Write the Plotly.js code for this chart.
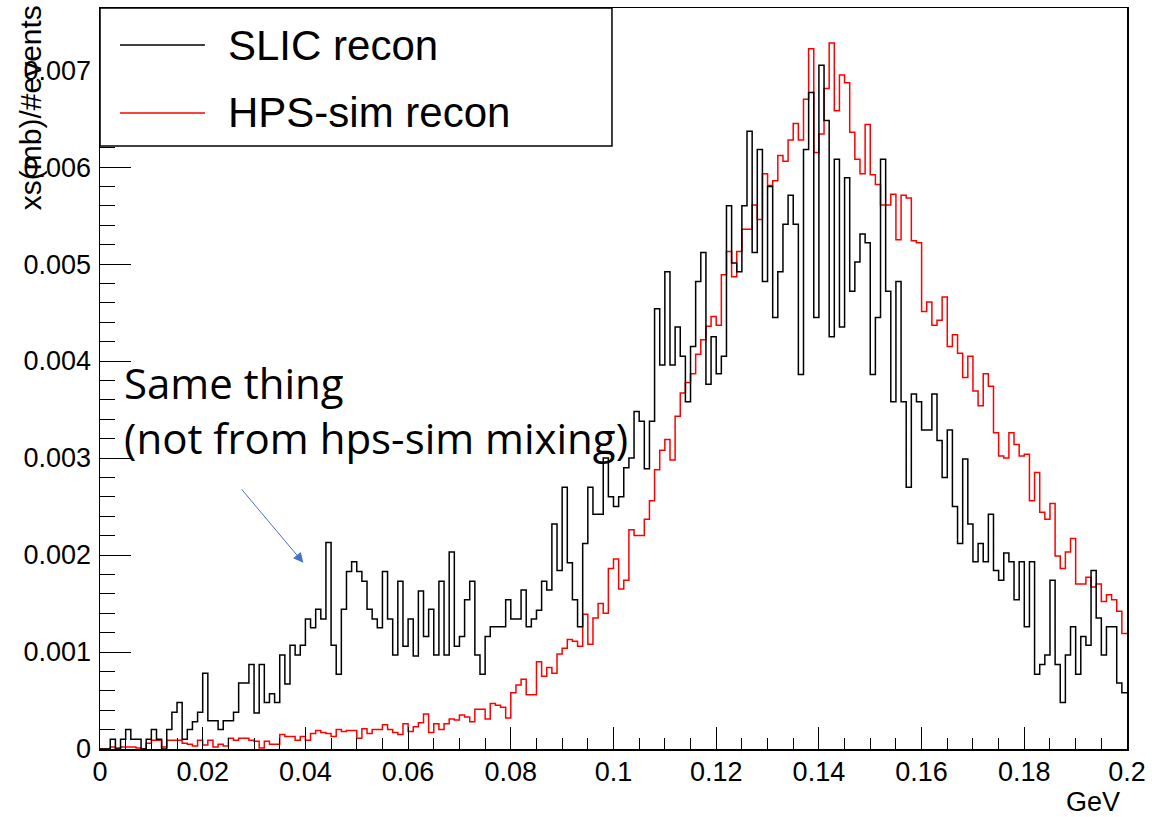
<!DOCTYPE html>
<html>
<head>
<meta charset="utf-8">
<script src="https://cdn.plot.ly/plotly-3.0.1.min.js"></script>
<style>html,body{margin:0;padding:0;background:#fff;}#chart{width:1152px;height:817px;}</style>
</head>
<body>
<div id="chart"></div>
<script>
// Histogram range and binning (200 bins from 0 to 0.2 GeV)
const xMin = 0.0;
const xMax = 0.2;
const nBins = 200;

// SLIC recon (black) bin contents
const slicRecon = [
0,0,0.0001,0,0.0001,0.0002,0.0001,0.0001,0,0.0001,
0.0002,0.0001,0,0.0002,0.00038,0.00048,0.0001,0.0002,0.00028,0.00038,
0.00078,0.00029,0.00029,0.0002,0.00029,0.00029,0.00038,0.00068,0.00068,0.00087,
0.00037,0.00087,0.00048,0.00057,0.00048,0.00097,0.00067,0.00107,0.00097,0.00107,
0.00134,0.00125,0.00144,0.00134,0.00213,0.00107,0.00077,0.00144,0.00183,0.00193,
0.00183,0.00173,0.00144,0.00134,0.00125,0.00183,0.00134,0.00097,0.00173,0.00106,
0.00134,0.00096,0.00163,0.00116,0.00144,0.00097,0.00173,0.00097,0.00203,0.00106,
0.00116,0.00154,0.00173,0.00097,0.00077,0.00116,0.00126,0.00126,0.00126,0.00154,
0.00134,0.00134,0.00164,0.00126,0.00134,0.00143,0.00173,0.00164,0.00232,0.00184,
0.0027,0.00192,0.00154,0.00126,0.00212,0.0027,0.00242,0.00242,0.003,0.0026,
0.0025,0.0026,0.0029,0.003,0.00348,0.00338,0.00289,0.00338,0.00454,0.00396,
0.00492,0.00396,0.00435,0.00405,0.00358,0.00415,0.00482,0.00512,0.00376,0.00425,
0.00387,0.00405,0.0056,0.00501,0.00492,0.0056,0.00637,0.00512,0.00618,0.00482,
0.0058,0.00445,0.00492,0.00541,0.00571,0.00541,0.00386,0.00618,0.00677,0.00445,
0.00705,0.00648,0.00425,0.00608,0.00435,0.00589,0.00472,0.00502,0.00531,0.00522,
0.00386,0.00445,0.00608,0.00472,0.00358,0.00482,0.00358,0.0027,0.00366,0.00358,
0.00329,0.00329,0.00366,0.00318,0.0028,0.00329,0.0025,0.00212,0.00299,0.00232,
0.00193,0.00212,0.00193,0.00242,0.00184,0.00174,0.00202,0.00193,0.00154,0.00193,
0.00126,0.00193,0.00077,0.00087,0.00097,0.00174,0.00087,0.00048,0.00097,0.00126,
0.00077,0.00116,0.00107,0.00184,0.00135,0.00097,0.00126,0.00126,0.00068,0.00058
];

// HPS-sim recon (red) bin contents
const hpsSimRecon = [
0,0,0.00002,0.00001,0.00002,0.00002,0.00002,0.00001,0,0.00006,
0.00009,0.00009,0.00002,0.00009,0.00009,0.00009,0.00006,0.00005,0.00003,0.00009,
0.00004,0.00009,0.00002,0.00005,0.00003,0.00011,0.00009,0.00011,0.00011,0.00009,
0.00008,0.00001,0.00008,0.00005,0.00005,0.00015,0.00013,0.00013,0.00009,0.00013,
0.00009,0.00016,0.00019,0.00017,0.00016,0.00013,0.0002,0.00018,0.00019,0.00019,
0.00011,0.00021,0.00016,0.0002,0.0002,0.00025,0.0002,0.00017,0.00015,0.00026,
0.00018,0.00023,0.00027,0.00036,0.00017,0.00026,0.0002,0.00026,0.00031,0.0003,
0.00035,0.00033,0.00028,0.00041,0.00041,0.00031,0.00047,0.00045,0.00043,0.00032,
0.00058,0.00066,0.00072,0.00056,0.00056,0.0009,0.00075,0.00084,0.00078,0.00098,
0.00104,0.00113,0.00111,0.00106,0.00139,0.00108,0.00135,0.0015,0.0014,0.00186,
0.00196,0.00165,0.00174,0.00226,0.0022,0.0022,0.00237,0.00256,0.00288,0.00308,
0.00319,0.00298,0.00343,0.00367,0.00378,0.00387,0.00407,0.00422,0.00436,0.00446,
0.00437,0.00489,0.00513,0.00487,0.00513,0.00536,0.00536,0.00561,0.00546,0.00593,
0.00581,0.00586,0.00612,0.00606,0.00628,0.00645,0.00628,0.0067,0.00722,0.00615,
0.00634,0.00681,0.00728,0.00658,0.00695,0.00687,0.00636,0.00608,0.00593,0.00644,
0.00592,0.00582,0.00561,0.00561,0.00572,0.00525,0.00571,0.00568,0.00524,0.00522,
0.00451,0.00461,0.00437,0.00442,0.00466,0.00415,0.00427,0.00408,0.00383,0.00405,
0.00369,0.00354,0.00387,0.00374,0.00326,0.00302,0.003,0.00326,0.00314,0.00302,
0.00304,0.00256,0.00285,0.00244,0.00237,0.00253,0.00199,0.00186,0.00203,0.00217,
0.0017,0.0017,0.00177,0.00167,0.0017,0.00152,0.00159,0.00154,0.00142,0.00119
];

// Tick labels
const xTickVals = [0,0.02,0.04,0.06,0.08,0.1,0.12,0.14,0.16,0.18,0.2];
const xTickText = ['0','0.02','0.04','0.06','0.08','0.1','0.12','0.14','0.16','0.18','0.2'];
const yTickVals = [0,0.001,0.002,0.003,0.004,0.005,0.006,0.007];
const yTickText = ['0','0.001','0.002','0.003','0.004','0.005','0.006','0.007'];

const seriesNames = ['SLIC recon','HPS-sim recon'];
const seriesColors = ['#000000','#ff0000'];

function stepXY(vals){
  const w = (xMax - xMin) / nBins;
  const x = [], y = [];
  for (let i = 0; i < vals.length; i++){ x.push(xMin + i*w); y.push(vals[i]); }
  x.push(xMax); y.push(vals[vals.length-1]);
  return {x, y};
}

const s1 = stepXY(slicRecon), s2 = stepXY(hpsSimRecon);
const traces = [
  {x: s2.x, y: s2.y, type:'scatter', mode:'lines', line:{shape:'hv', color:seriesColors[1], width:1.5}, name:seriesNames[1], showlegend:false, hoverinfo:'skip'},
  {x: s1.x, y: s1.y, type:'scatter', mode:'lines', line:{shape:'hv', color:seriesColors[0], width:1.5}, name:seriesNames[0], showlegend:false, hoverinfo:'skip'}
];

const tickFont = {family:'Liberation Sans, Arial, sans-serif', size:27, color:'#000'};

const layout = {
  width:1152, height:817,
  margin:{l:100, r:25, t:8, b:68, pad:0},
  paper_bgcolor:'#fff', plot_bgcolor:'#fff',
  showlegend:false,
  xaxis:{range:[xMin,xMax], tickmode:'array', tickvals:xTickVals, ticktext:xTickText,
    ticks:'inside', ticklen:22, tickwidth:1, tickcolor:'#000',
    minor:{dtick:0.005, tick0:0, ticks:'inside', ticklen:11, tickwidth:1, tickcolor:'#000', showgrid:false},
    showgrid:false, zeroline:false, showline:true, mirror:true, linecolor:'#000', linewidth:1.5,
    tickfont:tickFont, ticklabelstandoff:-2},
  yaxis:{range:[0,0.00764], tickmode:'array', tickvals:yTickVals, ticktext:yTickText,
    ticks:'inside', ticklen:31, tickwidth:1, tickcolor:'#000',
    minor:{dtick:0.0002, tick0:0, ticks:'inside', ticklen:15, tickwidth:1, tickcolor:'#000', showgrid:false},
    showgrid:false, zeroline:false, showline:true, mirror:true, linecolor:'#000', linewidth:1.5,
    tickfont:tickFont, ticklabelstandoff:2},
  shapes:[
    {type:'rect', xref:'paper', yref:'paper', x0:0, x1:0.4985, y0:0.8138, y1:1, line:{color:'#000', width:1.5}, fillcolor:'#fff', layer:'above'},
    {type:'line', xref:'paper', yref:'paper', x0:0.0195, x1:0.1022, y0:0.950, y1:0.950, line:{color:seriesColors[0], width:1.5}, layer:'above'},
    {type:'line', xref:'paper', yref:'paper', x0:0.0195, x1:0.1022, y0:0.8583, y1:0.8583, line:{color:seriesColors[1], width:1.5}, layer:'above'}
  ],
  annotations:[
    {xref:'paper', yref:'paper', x:0.1227, y:0.950, xanchor:'left', yanchor:'middle', text:seriesNames[0], showarrow:false, font:{family:'Liberation Sans, Arial, sans-serif', size:42, color:'#000'}},
    {xref:'paper', yref:'paper', x:0.1227, y:0.8583, xanchor:'left', yanchor:'middle', text:seriesNames[1], showarrow:false, font:{family:'Liberation Sans, Arial, sans-serif', size:42, color:'#000'}},
    {xref:'paper', yref:'paper', x:-0.068, y:1.006, xanchor:'center', yanchor:'top', textangle:-90, text:'xs(mb)/#events', showarrow:false, font:{family:'Liberation Sans, Arial, sans-serif', size:30, color:'#000'}},
    {xref:'paper', yref:'paper', x:0.995, y:-0.0715, xanchor:'right', yanchor:'middle', text:'GeV', showarrow:false, font:{family:'Liberation Sans, Arial, sans-serif', size:27, color:'#000'}},
    {xref:'x', yref:'y', x:0.0043, y:0.0035, xanchor:'left', yanchor:'middle', align:'left', text:'Same thing<br>(not from hps-sim mixing)', showarrow:false, font:{family:'Open Sans, Noto Sans, sans-serif', size:42, color:'#000'}},
    {xref:'x', yref:'y', x:0.0396, y:0.00192, ax:-63, ay:-75, text:'', showarrow:true, arrowhead:2, arrowsize:2, arrowwidth:1, arrowcolor:'#4472C4'}
  ]
};

Plotly.newPlot('chart', traces, layout, {displayModeBar:false, staticPlot:true});
</script>
</body>
</html>
